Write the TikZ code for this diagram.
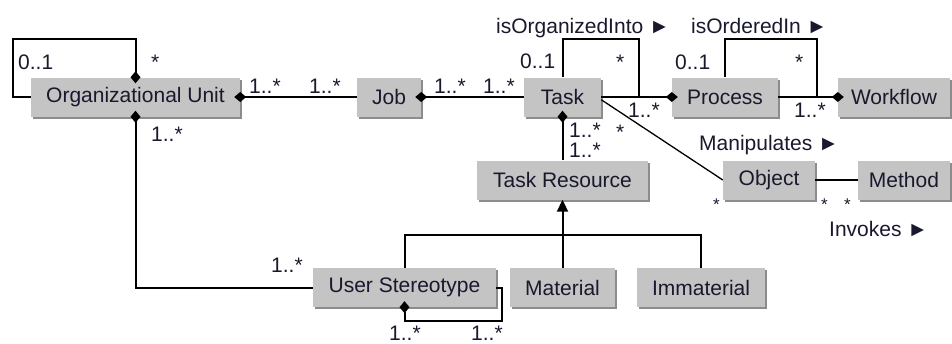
\documentclass[tikz,border=0pt]{standalone}
\usepackage{fontspec}
\setmainfont{Liberation Sans}
\usetikzlibrary{arrows.meta,shadows}
\definecolor{boxfill}{RGB}{196,196,196}
\definecolor{boxshadow}{RGB}{140,140,140}
\definecolor{txt}{RGB}{25,25,45}
\begin{document}
\begin{tikzpicture}[x=1pt,y=-1pt,
 box/.style={fill=boxfill, inner sep=0pt, minimum height=39pt, text=txt,
   font=\fontsize{21}{25}\selectfont,
   drop shadow={shadow xshift=2pt,shadow yshift=-2pt,opacity=1,fill=boxshadow}},
 lab/.style={anchor=base west, inner sep=0pt, text=txt, font=\fontsize{21}{25}\selectfont},
 slab/.style={lab, font=\fontsize{17}{20}\selectfont},
 conn/.style={line width=2pt, black},
 thinconn/.style={line width=1.3pt, black},
 dia/.style={conn, {Diamond[length=12pt,width=10pt]}-, shorten <=-6pt},
 gen/.style={conn, -{Triangle[length=12pt,width=11pt]}},
]
\useasboundingbox (0,0) rectangle (952,343);
% boxes
\node[box, minimum width=209pt] (OU) at (135.5,97) {Organizational Unit};
\node[box, minimum width=64pt] (Job) at (389,97) {Job};
\node[box, minimum width=77pt] (Task) at (562.5,97) {Task};
\node[box, minimum width=106pt] (Proc) at (725,97) {Process};
\node[box, minimum width=112pt] (WF) at (894,97) {Workflow};
\node[box, minimum width=171pt] (TR) at (562.5,180) {Task Resource};
\node[box, minimum width=92pt] (Obj) at (769,180) {Object};
\node[box, minimum width=92pt] (Meth) at (904,180) {Method};
\node[box, minimum width=183pt] (US) at (404.5,287.5) {User Stereotype};
\node[box, minimum width=105pt] (Mat) at (562.5,287.5) {Material};
\node[box, minimum width=128pt] (Imm) at (701,287.5) {Immaterial};
% helper coordinates
\coordinate (ouA) at (13,39);
\coordinate (tA) at (639,39);
\coordinate (pA) at (817,39);
\coordinate (uA) at (502,321);
\coordinate (gJ) at (562.5,235);
% connectors
\draw[dia] (OU.north) |- (ouA) |- (OU.west);
\draw[dia] (OU.east) -- (Job.west);
\draw[dia] (Job.east) -- (Task.west);
\draw[dia] (Proc.west) -- (Task.east);
\draw[dia] (WF.west) -- (Proc.east);
\draw[conn] (Task.north) |- (tA) -- (tA |- Task.east);
\draw[conn] (Proc.north) |- (pA) -- (pA |- Proc.east);
\draw[dia] (Task.south) -- (TR.north);
\draw[dia] (OU.south) |- (US.west);
\draw[dia] (US.south) |- (uA) |- (US.east);
\draw[gen] (gJ) -- (TR.south);
\draw[conn] (US.north) |- (gJ) -| (Imm.north);
\draw[conn] (Mat.north) -- (gJ);
\draw[thinconn] (Task.-4) -- (Obj.west);
\draw[thinconn] (Obj.east) -- (Meth.west);
% labels
\node[lab] (l1) at (18,69) {0..1};
\node[lab] (l2) at (151,69) {*};
\node[lab] (l3) at (249,93) {1..*};
\node[lab] (l4) at (309,93) {1..*};
\node[lab] (l5) at (434,93) {1..*};
\node[lab] (l6) at (483,93) {1..*};
\node[lab] (l7) at (496,33) {isOrganizedInto ►};
\node[lab] (l8) at (520,68) {0..1};
\node[lab] (l9) at (616,69) {*};
\node[lab] (l10) at (628,117) {1..*};
\node[lab] (l11) at (691,33) {isOrderedIn ►};
\node[lab] (l12) at (675,69) {0..1};
\node[lab] (l13) at (795,69) {*};
\node[lab] (l14) at (794,117) {1..*};
\node[lab] (l15) at (569,137) {1..*};
\node[lab] (l16) at (569,157) {1..*};
\node[lab] (l17) at (616,139) {*};
\node[lab] (l18) at (699,150) {Manipulates ►};
\node[slab] (l19) at (713,210) {*};
\node[slab] (l20) at (821,210) {*};
\node[slab] (l21) at (844,210) {*};
\node[lab] (l22) at (829,236) {Invokes ►};
\node[lab] (l23) at (151,141) {1..*};
\node[lab] (l24) at (271,272) {1..*};
\node[lab] (l25) at (389,340) {1..*};
\node[lab] (l26) at (471,340) {1..*};
\end{tikzpicture}
\end{document}
